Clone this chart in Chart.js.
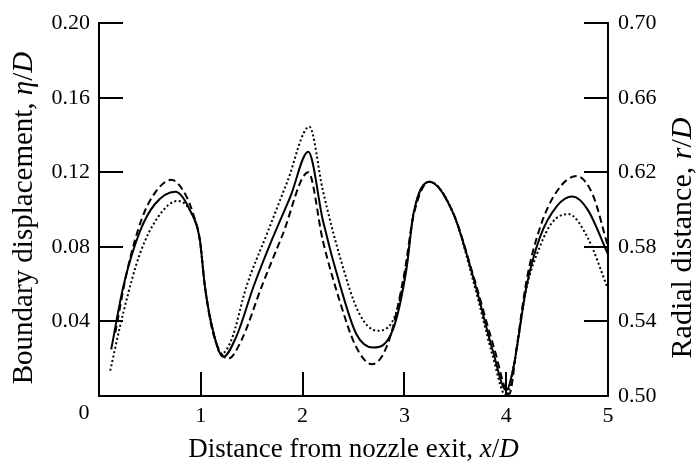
<!DOCTYPE html>
<html>
<head>
<meta charset="utf-8">
<script src="https://cdn.jsdelivr.net/npm/chart.js@4.4.1/dist/chart.umd.min.js"></script>
<style>
  html, body { margin: 0; padding: 0; background: #fff; }
  #wrap { width: 696px; height: 464px; position: relative; }
</style>
</head>
<body>
<div id="wrap"><canvas id="chart"></canvas></div>
<script>
// x/D positions and eta/D values
const solidX = [0.12, 0.24, 0.4, 0.55, 0.75, 0.9, 0.99, 1.04, 1.12, 1.22, 1.35, 1.52, 1.7, 1.88, 2.056, 2.2, 2.37, 2.53, 2.69, 2.89, 3.02, 3.09, 3.245, 3.48, 3.68, 3.87, 4.0, 4.07, 4.2, 4.33, 4.5, 4.65, 4.8, 5.0];
const solidY = [0.025, 0.059, 0.088, 0.103, 0.1096, 0.099, 0.084, 0.059, 0.035, 0.021, 0.032, 0.059, 0.084, 0.107, 0.131, 0.094, 0.059, 0.033, 0.026, 0.036, 0.068, 0.098, 0.115, 0.098, 0.063, 0.024, 0.003, 0.015, 0.059, 0.085, 0.102, 0.107, 0.1, 0.076];

const dashedX = [0.16, 0.28, 0.42, 0.55, 0.71, 0.85, 0.93, 0.99, 1.04, 1.12, 1.27, 1.4, 1.6, 1.8, 2.056, 2.2, 2.37, 2.52, 2.68, 2.85, 3.0, 3.09, 3.245, 3.48, 3.68, 3.88, 4.03, 4.1, 4.2, 4.33, 4.5, 4.69, 4.85, 5.0];
const dashedY = [0.034, 0.068, 0.095, 0.109, 0.116, 0.108, 0.097, 0.084, 0.059, 0.034, 0.02, 0.03, 0.059, 0.086, 0.12, 0.083, 0.05, 0.027, 0.017, 0.03, 0.066, 0.097, 0.115, 0.098, 0.064, 0.026, 0.001, 0.025, 0.062, 0.09, 0.11, 0.118, 0.108, 0.08];

const dottedX = [0.11, 0.24, 0.4, 0.58, 0.77, 0.9, 0.99, 1.04, 1.12, 1.2, 1.3, 1.45, 1.65, 1.85, 2.066, 2.2, 2.37, 2.55, 2.73, 2.9, 3.02, 3.09, 3.245, 3.48, 3.68, 3.86, 4.0, 4.07, 4.2, 4.33, 4.45, 4.61, 4.8, 5.0];
const dottedY = [0.0136, 0.045, 0.076, 0.096, 0.1046, 0.099, 0.084, 0.059, 0.035, 0.0226, 0.03, 0.059, 0.087, 0.115, 0.1445, 0.11, 0.074, 0.045, 0.035, 0.042, 0.07, 0.098, 0.115, 0.098, 0.061, 0.023, 0.0, 0.015, 0.058, 0.08, 0.093, 0.0976, 0.085, 0.0574];

const xTicks = [0, 1, 2, 3, 4, 5];
const leftTicks = [0, 0.04, 0.08, 0.12, 0.16, 0.2];
const rightTicks = [0.5, 0.54, 0.58, 0.62, 0.66, 0.7];

const serif = '"Liberation Serif", "Times New Roman", serif';
const toPoints = (xs, ys) => xs.map((x, i) => ({ x, y: ys[i] }));

// ticks point into the plot, titles drawn with italic symbols
const frameExtras = {
    id: 'frameExtras',
    afterDatasetsDraw(chart) {
        const { ctx, chartArea: a, scales } = chart;
        const len = 24;
        ctx.save();
        ctx.strokeStyle = '#000';
        ctx.lineWidth = 2;
        ctx.beginPath();
        leftTicks.slice(1).forEach((v) => {
            const y = Math.round(scales.y.getPixelForValue(v));
            ctx.moveTo(a.left, y); ctx.lineTo(a.left + len, y);
        });
        rightTicks.slice(1).forEach((v) => {
            const y = Math.round(scales.y2.getPixelForValue(v));
            ctx.moveTo(a.right, y); ctx.lineTo(a.right - len, y);
        });
        xTicks.slice(1, -1).forEach((v) => {
            const x = Math.round(scales.x.getPixelForValue(v));
            ctx.moveTo(x, a.bottom); ctx.lineTo(x, a.bottom - len);
        });
        ctx.stroke();

        ctx.fillStyle = '#000';
        ctx.textBaseline = 'middle';
        ctx.font = `22px ${serif}`;
        ctx.textAlign = 'center';
        ctx.fillText('0', scales.x.getPixelForValue(0) - 15, 413);

        const drawTitle = (parts, size, cx, cy, rot) => {
            ctx.save();
            ctx.translate(cx, cy);
            ctx.rotate(rot);
            const widths = parts.map(([t, it]) => {
                ctx.font = `${it ? 'italic ' : ''}${size}px ${serif}`;
                return ctx.measureText(t).width;
            });
            let x = -widths.reduce((s, w) => s + w, 0) / 2;
            ctx.textAlign = 'left';
            parts.forEach(([t, it], i) => {
                ctx.font = `${it ? 'italic ' : ''}${size}px ${serif}`;
                ctx.fillText(t, x, 0);
                x += widths[i];
            });
            ctx.restore();
        };
        drawTitle([['Distance from nozzle exit, ', false], ['x', true], ['/', false], ['D', true]], 27, (a.left + a.right) / 2, 450, 0);
        drawTitle([['Boundary displacement, ', false], ['η', true], ['/', false], ['D', true]], 29, 24, 218, -Math.PI / 2);
        drawTitle([['Radial distance, ', false], ['r', true], ['/', false], ['D', true]], 30, 683, 238, -Math.PI / 2);
        ctx.restore();
    },
};

const lineStyle = { borderColor: '#000', borderWidth: 2, pointRadius: 0, fill: false, cubicInterpolationMode: 'monotone', yAxisID: 'y' };

new Chart(document.getElementById('chart'), {
    type: 'line',
    data: {
        datasets: [
            { ...lineStyle, label: 'solid', data: toPoints(solidX, solidY) },
            { ...lineStyle, label: 'dashed', data: toPoints(dashedX, dashedY), borderDash: [7, 4] },
            { ...lineStyle, label: 'dotted', data: toPoints(dottedX, dottedY), borderDash: [2, 2.5] },
        ],
    },
    options: {
        responsive: true,
        maintainAspectRatio: false,
        animation: false,
        events: [],
        layout: { padding: { top: 15, left: 0, right: 0, bottom: 0 } },
        plugins: { legend: { display: false }, tooltip: { enabled: false } },
        scales: {
            x: {
                type: 'linear',
                min: 0,
                max: 5,
                afterBuildTicks: (s) => { s.ticks = xTicks.map((v) => ({ value: v })); },
                afterFit: (s) => { s.height = 68; },
                grid: { display: false, drawTicks: false },
                border: { color: '#000', width: 2 },
                ticks: {
                    color: '#000',
                    padding: 7,
                    maxRotation: 0,
                    font: { family: serif, size: 22 },
                    callback: (v) => (v === 0 ? '' : String(v)),
                },
            },
            y: {
                position: 'left',
                min: 0,
                max: 0.2,
                afterBuildTicks: (s) => { s.ticks = leftTicks.map((v) => ({ value: v })); },
                afterFit: (s) => { s.width = 99; },
                grid: { display: false, drawTicks: false },
                border: { color: '#000', width: 2 },
                ticks: {
                    color: '#000',
                    padding: 9,
                    font: { family: serif, size: 22 },
                    callback: (v) => (v === 0 ? '' : v.toFixed(2)),
                },
            },
            y2: {
                position: 'right',
                min: 0.5,
                max: 0.7,
                afterBuildTicks: (s) => { s.ticks = rightTicks.map((v) => ({ value: v })); },
                afterFit: (s) => { s.width = 88; },
                grid: { display: false, drawTicks: false },
                border: { color: '#000', width: 2 },
                ticks: {
                    color: '#000',
                    padding: 10,
                    font: { family: serif, size: 22 },
                    callback: (v) => v.toFixed(2),
                },
            },
        },
    },
    plugins: [frameExtras],
});
</script>
</body>
</html>
